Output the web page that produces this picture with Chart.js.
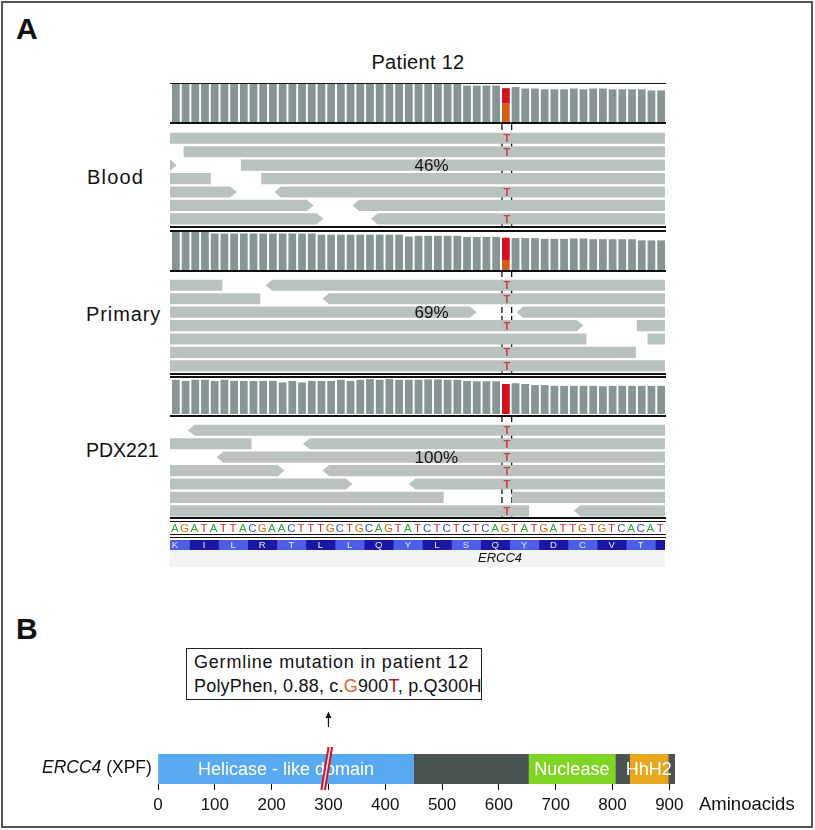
<!DOCTYPE html>
<html><head><meta charset="utf-8">
<script src="https://cdn.jsdelivr.net/npm/chart.js@4.4.1/dist/chart.umd.min.js"></script>
<style>
html,body{margin:0;padding:0;background:#fff;}
#page{position:relative;width:815px;height:830px;overflow:hidden;font-family:'Liberation Sans',Arial,sans-serif;color:#111;}
canvas{position:absolute;}
.t{position:absolute;white-space:nowrap;line-height:1;}
.ln{position:absolute;background:#111;}
</style></head><body><div id="page"></div>
<script>
// ---------------- DATA ----------------
const refSeq = "AGATATTACGAACTTTGCTGCAGTATCTCTCTCAGTATGATTGTGTCACAT".split('');
const mutIndex = 34;          // mutated base (G>T)
const altBase = 'T';
const aminoAcids = ['K','I','L','R','T','L','L','Q','Y','L','S','Q','Y','D','C','V','T',''];
const codonStarts = [-1,2,5,8,11,14,17,20,23,26,29,32,35,38,41,44,47,50];
const sampleNames = ['Blood','Primary','PDX221'];
const vafPercent = [46, 69, 100];
const covBlood = [100,100,100,100,100,100,100,100,100,100,100,100,100,100,100,100,100,100,100,100,100,100,100,100,100,100,100,100,100,100,
  96,96,96,96, 89, 92, 88,88, 86,86,86, 88, 86, 88,88, 86,86,86,86, 83,83];
const covPrimary = [100,100,100,100, 96,96,96,96,96,96,96,96,96,96,96, 93,93,93,93,93,93,93,93,93, 88, 90,90,90,90,90,
  87,87,87,87, 85, 84,84,84, 82,82,82, 83,83, 81,81,81,81,81, 78,78,78];
const covPDX = [90,87,90,90,87,90,87,87,87,87,87,83,87,83,87,87,87,90,87,90,92,90,92,90,90,
  90,91,91,90,90,87, 86,86,86, 79, 81, 79, 76,76, 74,74,74,74,74, 73, 74,74,74,74,74,74];
// reads: [row, start, end, arrow side]
const readsBlood = [
  [0,-1,52,''],[1,1.4,52,''],[2,-1,0.7,'R'],[2,7.3,52,''],[3,-1,4.2,''],[3,9.4,52,''],
  [4,-1,6.9,'R'],[4,10.75,52,'L'],[5,-1,14.8,'R'],[5,18.8,52,'L'],[6,-1,15.8,'R'],[6,20.7,52,'L']];
const readsPrimary = [
  [0,-1,5.4,''],[0,9.85,52,'L'],[1,-1,9.3,''],[1,15.7,52,'L'],[2,-1,31.6,'R'],[2,35.7,52,'L'],
  [3,-1,42.6,'R'],[3,48.1,52,''],[4,-1,42.9,''],[4,49.2,52,''],[5,-1,48.0,''],[6,-1,52,'']];
const readsPDX = [
  [0,1.85,52,'L'],[1,-1,8.4,''],[1,13.7,52,'L'],[2,4.8,52,'L'],[3,-1,11.8,'R'],[3,15.7,52,'L'],
  [4,-1,18.8,'R'],[4,24.6,52,'L'],[5,-1,28.2,''],[5,35.2,52,''],[6,-1,37.0,''],[6,41.6,52,'L']];
const altRowsBlood = [0,1,4,6];
const altRowsPrimary = [0,1,3,5,6];
const altRowsPDX = [0,1,2,3,4,6];
// panel B
const aaTicks = [0,100,200,300,400,500,600,700,800,900];
const domainNames = ['Helicase - like domain','','Nuclease','','HhH2',''];
const domainStart = [0,450,652,805,830,898];
const domainEnd   = [450,652,805,830,898,910];
const mutationAA = 300;

// ---------------- STYLE / LAYOUT ----------------
const FONT = "'Liberation Sans', Arial, sans-serif";
const page = document.getElementById('page');
const baseColors = {A:'#35a035', C:'#2f4fd2', G:'#cf6d12', T:'#d42a2a'};
const domainColors = ['#58a9f0','#4a5252','#80d524','#4a5252','#e7a820','#4a5252'];
const RH = 0.83, TIP = 0.7;

function mkCanvas(x,y,w,h){const c=document.createElement('canvas');c.width=w;c.height=h;
  c.style.left=x+'px';c.style.top=y+'px';c.style.width=w+'px';c.style.height=h+'px';page.appendChild(c);return c;}
function txt(html,x,y,size,o={}){const d=document.createElement('div');d.className='t';d.innerHTML=html;
  d.style.left=x+'px';d.style.top=y+'px';d.style.fontSize=size+'px';
  const ax=o.align==='center'?'-50%':(o.align==='right'?'-100%':'0');d.style.transform=`translate(${ax},-50%)`;
  if(o.bold)d.style.fontWeight='bold';if(o.italic)d.style.fontStyle='italic';if(o.color)d.style.color=o.color;
  if(o.ls)d.style.letterSpacing=o.ls+'px';page.appendChild(d);return d;}
function ln(x,y,w,h,c){const d=document.createElement('div');d.className='ln';d.style.left=x+'px';d.style.top=y+'px';
  d.style.width=w+'px';d.style.height=h+'px';if(c)d.style.background=c;page.appendChild(d);return d;}
function baseOpts(){return {responsive:false,maintainAspectRatio:false,animation:false,events:[],
  layout:{padding:0},plugins:{legend:{display:false},tooltip:{enabled:false}}};}

// frame
const fr=document.createElement('div');fr.style.cssText='position:absolute;left:1px;top:1px;width:812px;height:827px;box-sizing:border-box;border:2px solid #555;';page.appendChild(fr);

// ---------------- coverage tracks ----------------
function coverageChart(cov, vaf, top){
  const c = mkCanvas(171, top, 495, 38);
  const gray = cov.map((v,i)=> i===mutIndex?0:v);
  const alt = cov.map((v,i)=> i===mutIndex? v*vaf/100 : 0);
  const ref = cov.map((v,i)=> i===mutIndex? v - v*vaf/100 : 0);
  const o = baseOpts();
  o.scales = {x:{display:false,stacked:true}, y:{display:false,stacked:true,min:0,max:100}};
  o.datasets = {bar:{barPercentage:1,categoryPercentage:0.8}};
  new Chart(c,{type:'bar',data:{labels:refSeq.map((b,i)=>String(i)),datasets:[
    {data:gray,backgroundColor:'#879695'},
    {data:ref,backgroundColor:'#d35f16'},
    {data:alt,backgroundColor:'#d5121e'}]},options:o});
}

// ---------------- reads tracks ----------------
function readPoly(row,s,e,arrow){
  const y0=row,y1=row+RH,ym=row+RH/2,p=[];
  if(arrow==='L')p.push({x:s,y:ym},{x:s+TIP,y:y0});else p.push({x:s,y:y0});
  if(arrow==='R')p.push({x:e-TIP,y:y0},{x:e,y:ym},{x:e-TIP,y:y1});else p.push({x:e,y:y0},{x:e,y:y1});
  if(arrow==='L')p.push({x:s+TIP,y:y1});else p.push({x:s,y:y1});
  return p;
}
function readsChart(reads, altRows, vaf, top){
  const c = mkCanvas(170, top, 495, 102);
  const ds = reads.map(r=>({type:'line',data:readPoly(...r),fill:'shape',backgroundColor:'#b9c2bf',
    borderWidth:0,pointRadius:0,tension:0}));
  [mutIndex+0.2, mutIndex+1.2].forEach(xv=>ds.push({type:'line',data:[{x:xv,y:-0.65},{x:xv,y:6.95}],
    borderColor:'#111',borderWidth:1.3,borderDash:[6,3],pointRadius:0,fill:false}));
  const o = baseOpts();
  o.scales = {x:{type:'linear',display:false,min:0,max:51}, y:{type:'linear',display:false,min:-0.65,max:6.95,reverse:true}};
  const overlay = {id:'overlay',afterDatasetsDraw(ch){
    const ctx=ch.ctx,xs=ch.scales.x,ys=ch.scales.y;ctx.save();
    ctx.font=`bold 11px ${FONT}`;ctx.fillStyle='#c8404c';ctx.textAlign='center';ctx.textBaseline='middle';
    altRows.forEach(r=>ctx.fillText(altBase,xs.getPixelForValue(mutIndex+0.7),ys.getPixelForValue(r+RH/2)+1));
    ctx.font=`17px ${FONT}`;ctx.fillStyle='#111';ctx.textAlign='left';
    ctx.fillText(vaf+'%',xs.getPixelForValue(25.2),ys.getPixelForValue(2+RH/2)+1);
    ctx.restore();}};
  new Chart(c,{type:'line',data:{datasets:ds},options:o,plugins:[overlay]});
}

coverageChart(covBlood, vafPercent[0], 84);
coverageChart(covPrimary, vafPercent[1], 232);
coverageChart(covPDX, vafPercent[2], 376);
readsChart(readsBlood, altRowsBlood, vafPercent[0], 124);
readsChart(readsPrimary, altRowsPrimary, vafPercent[1], 271);
readsChart(readsPDX, altRowsPDX, vafPercent[2], 416);

// ---------------- sequence track ----------------
(function(){
  const c = mkCanvas(170, 522, 495, 12);
  const o = baseOpts();
  o.scales = {x:{type:'linear',display:false,min:0,max:51}, y:{type:'linear',display:false,min:-1,max:1}};
  const letters = {id:'letters',afterDatasetsDraw(ch){
    const ctx=ch.ctx;ctx.save();ctx.font=`11.5px ${FONT}`;ctx.textAlign='center';ctx.textBaseline='middle';
    ch.getDatasetMeta(0).data.forEach((pt,i)=>{ctx.fillStyle=baseColors[refSeq[i]];ctx.fillText(refSeq[i],pt.x,pt.y+1);});
    ctx.restore();}};
  new Chart(c,{type:'scatter',data:{datasets:[{data:refSeq.map((b,i)=>({x:i+0.5,y:0})),pointRadius:0}]},options:o,plugins:[letters]});
})();

// ---------------- amino acid track ----------------
ln(170,550,495,17,'#f3f3f3');
(function(){
  const c = mkCanvas(170, 540, 495, 10);
  const o = baseOpts();
  o.indexAxis='y';
  o.scales = {x:{type:'linear',display:false,min:0,max:51}, y:{display:false}};
  const labels = {id:'aalabels',afterDatasetsDraw(ch){
    const ctx=ch.ctx;ctx.save();ctx.font=`9.5px ${FONT}`;ctx.fillStyle='#e8eaf6';ctx.textAlign='center';ctx.textBaseline='middle';
    aminoAcids.forEach((a,i)=>{if(!a)return;const p=ch.getDatasetMeta(i).data[0].getCenterPoint();ctx.fillText(a,p.x,p.y+0.5);});
    ctx.restore();}};
  new Chart(c,{type:'bar',data:{labels:['aa'],datasets:aminoAcids.map((a,i)=>({data:[[codonStarts[i],codonStarts[i]+3]],
    backgroundColor:i%2===0?'#4e5ee8':'#1818a4',barPercentage:1,categoryPercentage:1,grouped:false}))},options:o,plugins:[labels]});
})();

// separator lines (panel A)
[[82.5,1.7],[122.3,1.7],[226,1.6],[230,1.6],[270,1.5],[373.2,1.5],[376.2,1.5],[415,1.5],[517.3,1.3],[520.6,1.3],[534.2,1.1],[536.6,1.1]]
  .forEach(([y,h])=>ln(170,y,496,h));

// ---------------- panel B ----------------
(function(){
  const c = mkCanvas(0, 700, 815, 130);
  const o = baseOpts();
  o.indexAxis='y';
  o.layout={padding:{left:158,right:140,top:54,bottom:16}};
  o.scales = {
    x:{type:'linear',min:0,max:910,afterBuildTicks:ax=>{ax.ticks=aaTicks.map(v=>({value:v}));},
      grid:{drawOnChartArea:false,drawTicks:true,tickLength:6,color:'#111',lineWidth:1},border:{display:false},
      ticks:{font:{size:17,family:FONT},color:'#111',padding:5,maxRotation:0,autoSkip:false}},
    y:{display:false}};
  const deco = {id:'deco',afterDatasetsDraw(ch){
    const ctx=ch.ctx;ctx.save();
    ctx.font=`18px ${FONT}`;ctx.fillStyle='#fff';ctx.textAlign='center';ctx.textBaseline='middle';
    domainNames.forEach((n,i)=>{if(!n)return;const p=ch.getDatasetMeta(i).data[0].getCenterPoint();ctx.fillText(n,p.x,p.y+1);});
    const cx=ch.scales.x.getPixelForValue(mutationAA),top=ch.chartArea.top,bot=ch.chartArea.bottom;
    // double slash
    ctx.lineCap='butt';
    ctx.strokeStyle='#f4dfe2';ctx.lineWidth=3;ctx.beginPath();ctx.moveTo(cx-5.3,bot+6);ctx.lineTo(cx+1.9,top-7);ctx.stroke();
    ctx.strokeStyle='#c41a30';ctx.lineWidth=2;
    [-1.8,1.8].forEach(d=>{ctx.beginPath();ctx.moveTo(cx-5.3+d,bot+6);ctx.lineTo(cx+1.9+d,top-7);ctx.stroke();});
    // arrow
    ctx.strokeStyle='#111';ctx.fillStyle='#111';ctx.lineWidth=1.2;
    ctx.beginPath();ctx.moveTo(cx,27);ctx.lineTo(cx,16);ctx.stroke();
    ctx.beginPath();ctx.moveTo(cx,11.5);ctx.lineTo(cx-3,18);ctx.lineTo(cx+3,18);ctx.closePath();ctx.fill();
    ctx.restore();}};
  new Chart(c,{type:'bar',data:{labels:['ERCC4'],datasets:domainNames.map((n,i)=>({data:[[domainStart[i],domainEnd[i]]],
    backgroundColor:domainColors[i],barPercentage:1,categoryPercentage:1,grouped:false}))},options:o,plugins:[deco]});
})();

// ---------------- texts ----------------
txt('A',16,29,30,{bold:true});
txt('Patient 12',418,62,20,{align:'center',ls:0.3});
txt(sampleNames[0],87,177,20,{ls:1.2});
txt(sampleNames[1],86,314,20,{ls:0.9});
txt(sampleNames[2],86,451,19.5);
txt('<i>ERCC4</i>',500,557,13,{align:'center'});
txt('B',16,629,30,{bold:true});
const box=document.createElement('div');box.style.cssText='position:absolute;left:186px;top:648px;width:296px;height:52px;box-sizing:border-box;border:1.5px solid #222;';page.appendChild(box);
txt('Germline mutation in patient 12',194,662,18,{ls:0.8});
txt('PolyPhen, 0.88, c.<span style="color:#e0621c">G</span>900<span style="color:#b3202c">T</span>, p.Q300H',194,686,18,{ls:0.2});
txt('<i>ERCC4</i> (XPF)',42,768,17.5);
txt('Aminoacids',699,804,18.5);
</script></body></html>
